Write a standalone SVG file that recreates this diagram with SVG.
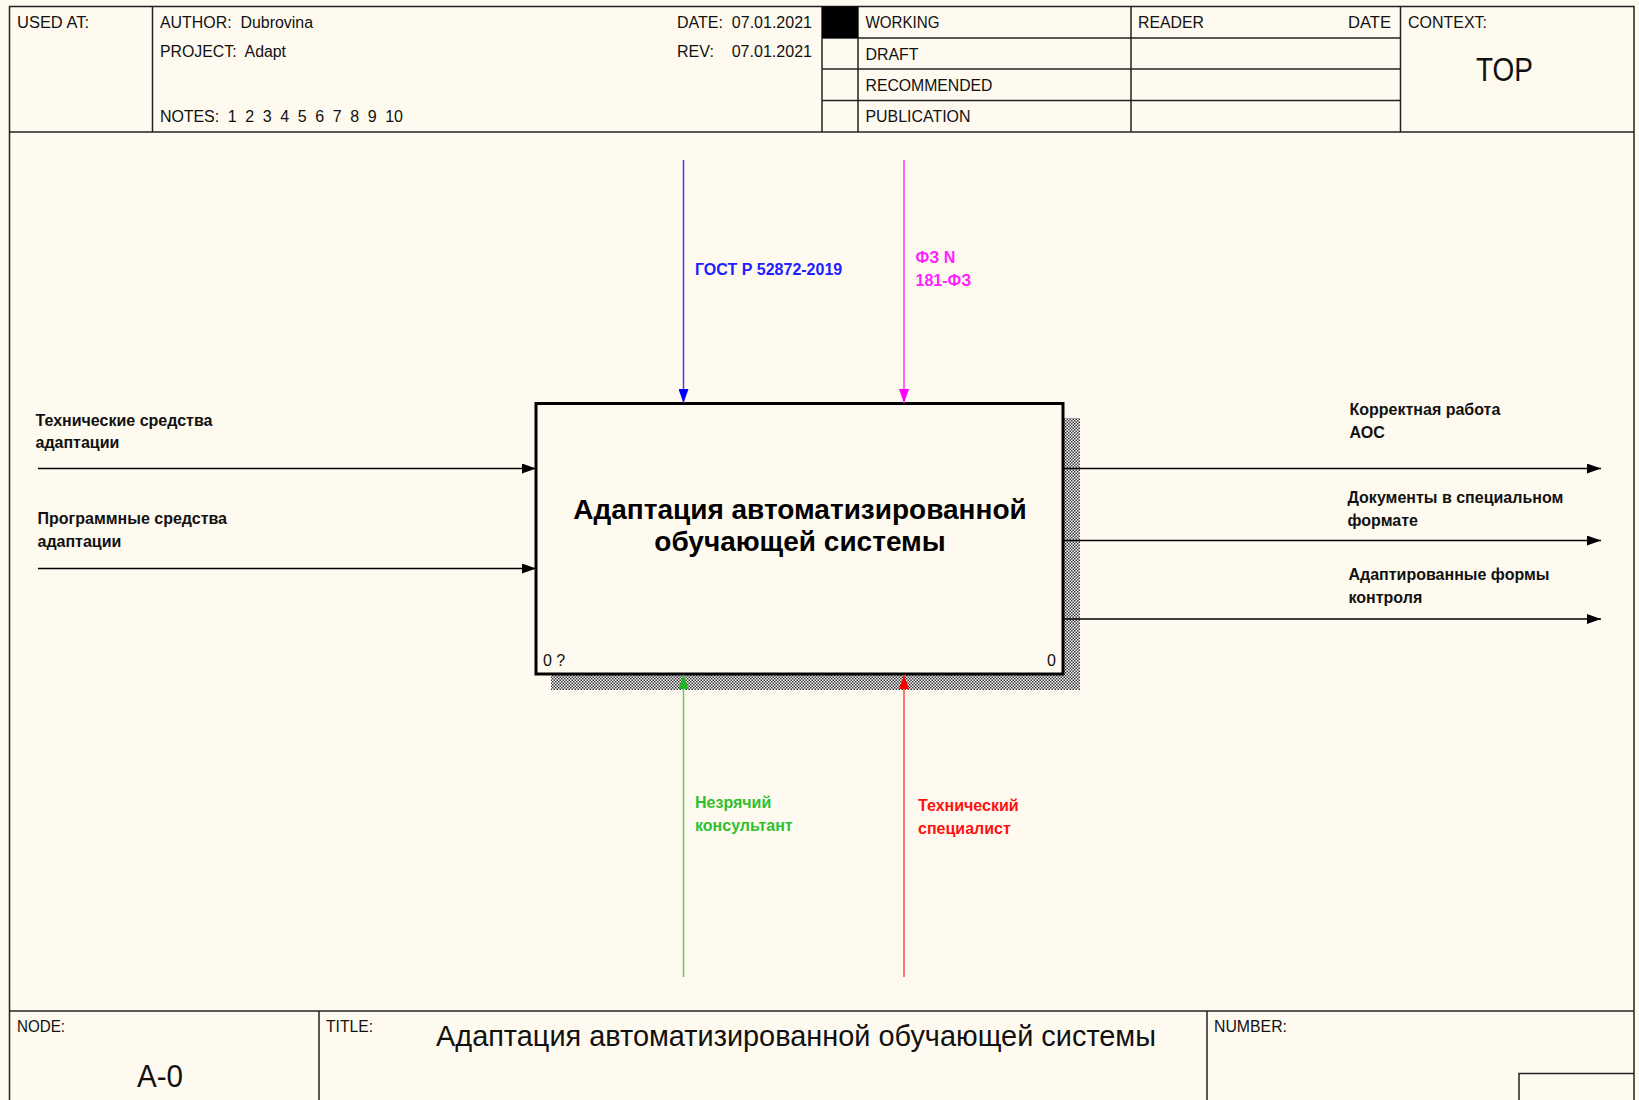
<svg xmlns="http://www.w3.org/2000/svg" width="1639" height="1100" viewBox="0 0 1639 1100">
<style>
.frame{fill:none;stroke:#222;stroke-width:1.5}
.hd{font-family:"Liberation Sans",Arial,sans-serif;font-size:16px;fill:#111}
.lbl{font-family:"Liberation Sans",Arial,sans-serif;font-size:16px;font-weight:bold}
.ttl{font-family:"Liberation Sans",Arial,sans-serif;font-size:28px;font-weight:bold;fill:#000}
.arr{fill:none;stroke-width:1.5}
</style>
<defs>
<pattern id="hatch" width="3" height="3" patternUnits="userSpaceOnUse">
<rect width="3" height="3" fill="#fff"/>
<rect x="0" y="0" width="1.5" height="1.5" fill="#333"/>
<rect x="1.5" y="1.5" width="1.5" height="1.5" fill="#333"/>
</pattern>
<marker id="mk" viewBox="0 0 14 10" refX="14" refY="5" markerWidth="14" markerHeight="10" markerUnits="userSpaceOnUse" orient="auto"><path d="M0,0 L14,5 L0,10 Z" fill="#000"/></marker>
<marker id="mb" viewBox="0 0 14 10" refX="14" refY="5" markerWidth="14" markerHeight="10" markerUnits="userSpaceOnUse" orient="auto"><path d="M0,0 L14,5 L0,10 Z" fill="#0000ff"/></marker>
<marker id="mm" viewBox="0 0 14 10" refX="14" refY="5" markerWidth="14" markerHeight="10" markerUnits="userSpaceOnUse" orient="auto"><path d="M0,0 L14,5 L0,10 Z" fill="#ff00ff"/></marker>
<marker id="mg" viewBox="0 0 14 10" refX="14" refY="5" markerWidth="14" markerHeight="10" markerUnits="userSpaceOnUse" orient="auto"><path d="M0,0 L14,5 L0,10 Z" fill="#22b422"/></marker>
<marker id="mr" viewBox="0 0 14 10" refX="14" refY="5" markerWidth="14" markerHeight="10" markerUnits="userSpaceOnUse" orient="auto"><path d="M0,0 L14,5 L0,10 Z" fill="#ff0000"/></marker>
</defs>
<rect width="1639" height="1100" fill="#fffaef"/>
<g id="header">
<rect x="9.5" y="6.5" width="1624.5" height="1100" class="frame"/>
<line x1="9.5" y1="132" x2="1634" y2="132" class="frame"/>
<line x1="152.5" y1="6.5" x2="152.5" y2="132" class="frame"/>
<line x1="822" y1="6.5" x2="822" y2="132" class="frame"/>
<line x1="858" y1="6.5" x2="858" y2="132" class="frame"/>
<line x1="1131" y1="6.5" x2="1131" y2="132" class="frame"/>
<line x1="1400.5" y1="6.5" x2="1400.5" y2="132" class="frame"/>
<line x1="822" y1="38" x2="1400.5" y2="38" class="frame"/>
<line x1="822" y1="69" x2="1400.5" y2="69" class="frame"/>
<line x1="822" y1="100.5" x2="1400.5" y2="100.5" class="frame"/>
<rect x="822" y="6.5" width="36" height="31.5" fill="#000"/>
<text x="17" y="28" class="hd" textLength="72" lengthAdjust="spacingAndGlyphs">USED AT:</text>
<text x="160" y="28" class="hd" xml:space="preserve" textLength="153" lengthAdjust="spacingAndGlyphs">AUTHOR:  Dubrovina</text>
<text x="160" y="57" class="hd" xml:space="preserve" textLength="126" lengthAdjust="spacingAndGlyphs">PROJECT:  Adapt</text>
<text x="160" y="122" class="hd" xml:space="preserve" textLength="243" lengthAdjust="spacing">NOTES:  1  2  3  4  5  6  7  8  9  10</text>
<text x="677" y="28" class="hd" xml:space="preserve" textLength="135" lengthAdjust="spacingAndGlyphs">DATE:  07.01.2021</text>
<text x="677" y="57" class="hd" xml:space="preserve" textLength="135" lengthAdjust="spacingAndGlyphs">REV:    07.01.2021</text>
<text x="865.5" y="28" class="hd" textLength="74" lengthAdjust="spacingAndGlyphs">WORKING</text>
<text x="865.5" y="59.5" class="hd" textLength="53" lengthAdjust="spacingAndGlyphs">DRAFT</text>
<text x="865.5" y="91" class="hd" textLength="127" lengthAdjust="spacingAndGlyphs">RECOMMENDED</text>
<text x="865.5" y="122" class="hd" textLength="105" lengthAdjust="spacingAndGlyphs">PUBLICATION</text>
<text x="1138" y="28" class="hd" textLength="66" lengthAdjust="spacingAndGlyphs">READER</text>
<text x="1348" y="28" class="hd" textLength="43" lengthAdjust="spacingAndGlyphs">DATE</text>
<text x="1408" y="28" class="hd" textLength="79" lengthAdjust="spacingAndGlyphs">CONTEXT:</text>
<text x="1476" y="81" class="hd" style="font-size:34px" textLength="57" lengthAdjust="spacingAndGlyphs">TOP</text>
</g>
<g id="footer">
<line x1="9.5" y1="1011" x2="1634" y2="1011" class="frame"/>
<line x1="319" y1="1011" x2="319" y2="1100" class="frame"/>
<line x1="1207" y1="1011" x2="1207" y2="1100" class="frame"/>
<polyline points="1519,1100 1519,1073.5 1634,1073.5" class="frame"/>
<text x="17" y="1032" class="hd" textLength="48" lengthAdjust="spacingAndGlyphs">NODE:</text>
<text x="326" y="1032" class="hd" textLength="47" lengthAdjust="spacingAndGlyphs">TITLE:</text>
<text x="1214" y="1032" class="hd" textLength="73" lengthAdjust="spacingAndGlyphs">NUMBER:</text>
<text x="160" y="1087" class="hd" style="font-size:32px" text-anchor="middle" textLength="46" lengthAdjust="spacingAndGlyphs">A-0</text>
<text x="436" y="1046" class="hd" style="font-size:30px" textLength="720" lengthAdjust="spacingAndGlyphs">Адаптация автоматизированной обучающей системы</text>
</g>
<g id="node-A0">
<rect x="1063" y="418" width="17" height="272" fill="url(#hatch)"/>
<rect x="551" y="674" width="529" height="16" fill="url(#hatch)"/>
<rect x="536" y="403.5" width="527" height="270.5" fill="#fffaef" stroke="#000" stroke-width="3"/>
<text x="800" y="519" class="ttl" text-anchor="middle">Адаптация автоматизированной</text>
<text x="800" y="551" class="ttl" text-anchor="middle">обучающей системы</text>
<text x="543" y="666" class="hd">0 ?</text>
<text x="1056" y="666" class="hd" text-anchor="end">0</text>
</g>
<g id="connectors">
<line x1="38" y1="468.5" x2="536" y2="468.5" class="arr" stroke="#000" marker-end="url(#mk)"/>
<line x1="38" y1="568.5" x2="536" y2="568.5" class="arr" stroke="#000" marker-end="url(#mk)"/>
<line x1="1063" y1="468.5" x2="1601" y2="468.5" class="arr" stroke="#000" marker-end="url(#mk)"/>
<line x1="1063" y1="540.5" x2="1601" y2="540.5" class="arr" stroke="#000" marker-end="url(#mk)"/>
<line x1="1063" y1="619" x2="1601" y2="619" class="arr" stroke="#000" marker-end="url(#mk)"/>
<line x1="683.5" y1="160" x2="683.5" y2="403" class="arr" stroke="#3c3cff" marker-end="url(#mb)"/>
<line x1="904" y1="160" x2="904" y2="403" class="arr" stroke="#ff33ff" marker-end="url(#mm)"/>
<line x1="683.5" y1="977" x2="683.5" y2="675" class="arr" stroke="#5ccc5c" marker-end="url(#mg)"/>
<line x1="904" y1="977" x2="904" y2="675" class="arr" stroke="#ff4d4d" marker-end="url(#mr)"/>
<text x="35.5" y="425.5" class="lbl" fill="#111">Технические средства</text>
<text x="35.5" y="448" class="lbl" fill="#111">адаптации</text>
<text x="37.5" y="524" class="lbl" fill="#111">Программные средства</text>
<text x="37.5" y="547" class="lbl" fill="#111">адаптации</text>
<text x="1349.5" y="415" class="lbl" fill="#111">Корректная работа</text>
<text x="1349.5" y="438" class="lbl" fill="#111">АОС</text>
<text x="1347.5" y="503" class="lbl" fill="#111">Документы в специальном</text>
<text x="1347.5" y="526" class="lbl" fill="#111">формате</text>
<text x="1348.5" y="580" class="lbl" fill="#111">Адаптированные формы</text>
<text x="1348.5" y="603" class="lbl" fill="#111">контроля</text>
<text x="695" y="275" class="lbl" fill="#2020ff">ГОСТ Р 52872-2019</text>
<text x="915.5" y="263" class="lbl" fill="#ff22ff">ФЗ N</text>
<text x="915.5" y="286" class="lbl" fill="#ff22ff">181-ФЗ</text>
<text x="695" y="808" class="lbl" fill="#2fbf2f">Незрячий</text>
<text x="695" y="831" class="lbl" fill="#2fbf2f">консультант</text>
<text x="918" y="811" class="lbl" fill="#ff1010">Технический</text>
<text x="918" y="834" class="lbl" fill="#ff1010">специалист</text>
</g>
</svg>
